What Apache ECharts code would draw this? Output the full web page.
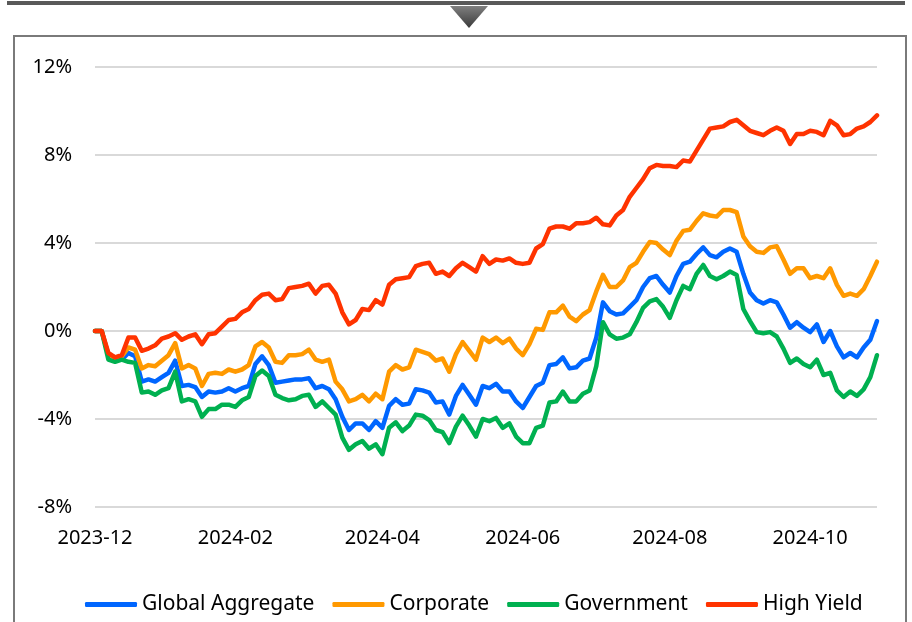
<!DOCTYPE html>
<html>
<head>
<meta charset="utf-8">
<script src="https://cdn.jsdelivr.net/npm/echarts@6/dist/echarts.min.js"></script>
<style>
    html, body {margin: 0; padding: 0; background: #fff;}
    #main {width: 912px; height: 622px;}
</style>
</head>
<body>
<div id="main"></div>
<script>
// series names + colors
const seriesNames = ['Global Aggregate', 'Corporate', 'Government', 'High Yield'];
const seriesColors = ['#0066FF', '#FF9900', '#00B050', '#FF3300'];

// y axis ticks (%)
const yTicks = [-8, -4, 0, 4, 8, 12];
// x positions that carry a month label
const labelIdx = [0, 21, 43, 64, 86, 107];

// values, one every 2nd business day from 2023-12-29
const globalAgg = [0, 0, -1.1, -1.2, -1.3, -1.0, -1.15, -2.3, -2.2, -2.3,
    -2.1, -1.9, -1.35, -2.5, -2.45, -2.55, -3.0, -2.75, -2.8, -2.75,
    -2.6, -2.75, -2.6, -2.5, -1.5, -1.15, -1.55, -2.35, -2.3, -2.25,
    -2.2, -2.2, -2.15, -2.6, -2.5, -2.65, -3.1, -3.9, -4.5, -4.2,
    -4.2, -4.5, -4.1, -4.4, -3.4, -3.1, -3.35, -3.3, -2.65, -2.7,
    -2.8, -3.25, -3.2, -3.8, -2.95, -2.45, -2.9, -3.35, -2.5, -2.6,
    -2.4, -2.75, -2.75, -3.2, -3.5, -3.0, -2.5, -2.35, -1.55, -1.5,
    -1.2, -1.7, -1.65, -1.35, -1.25, -0.3, 1.3, 0.9, 0.75, 0.8,
    1.1, 1.4, 2.0, 2.4, 2.5, 2.1, 1.75, 2.5, 3.05, 3.15,
    3.5, 3.8, 3.45, 3.35, 3.6, 3.75, 3.6, 2.6, 1.75, 1.4,
    1.25, 1.4, 1.3, 0.75, 0.15, 0.4, 0.15, -0.05, 0.3, -0.5,
    0.0, -0.7, -1.2, -1.0, -1.2, -0.75, -0.4, 0.45];

const corporate = [0, 0, -1.1, -1.2, -1.15, -0.75, -0.85, -1.7, -1.55, -1.6,
    -1.35, -1.1, -0.55, -1.7, -1.55, -1.7, -2.5, -1.95, -1.9, -1.95,
    -1.75, -1.85, -1.75, -1.55, -0.7, -0.5, -0.75, -1.4, -1.45, -1.1,
    -1.1, -1.05, -0.85, -1.3, -1.4, -1.3, -2.3, -2.65, -3.2, -3.1,
    -2.9, -3.2, -2.85, -3.1, -1.85, -1.55, -1.75, -1.65, -0.85, -0.95,
    -1.05, -1.35, -1.25, -1.85, -1.05, -0.5, -0.9, -1.3, -0.3, -0.5,
    -0.3, -0.55, -0.35, -0.8, -1.1, -0.6, 0.1, 0.05, 0.85, 0.85,
    1.15, 0.65, 0.45, 0.75, 0.95, 1.8, 2.55, 2.0, 2.0, 2.3,
    2.9, 3.1, 3.6, 4.05, 4.0, 3.7, 3.45, 4.1, 4.55, 4.6,
    5.0, 5.35, 5.25, 5.2, 5.5, 5.5, 5.4, 4.3, 3.85, 3.6,
    3.55, 3.8, 3.85, 3.25, 2.6, 2.85, 2.85, 2.4, 2.5, 2.4,
    2.85, 2.1, 1.6, 1.7, 1.6, 1.9, 2.5, 3.15];

const government = [0, 0, -1.3, -1.4, -1.3, -1.4, -1.45, -2.8, -2.75, -2.9,
    -2.7, -2.6, -1.85, -3.2, -3.1, -3.2, -3.9, -3.55, -3.55, -3.35,
    -3.35, -3.45, -3.15, -3.0, -2.05, -1.8, -2.05, -2.9, -3.05, -3.15,
    -3.1, -2.95, -2.9, -3.45, -3.2, -3.5, -3.8, -4.85, -5.4, -5.15,
    -5.0, -5.35, -5.15, -5.6, -4.4, -4.15, -4.55, -4.3, -3.8, -3.85,
    -4.05, -4.5, -4.6, -5.1, -4.35, -3.85, -4.3, -4.8, -4.0, -4.1,
    -3.95, -4.4, -4.2, -4.8, -5.1, -5.1, -4.4, -4.3, -3.25, -3.2,
    -2.75, -3.2, -3.2, -2.85, -2.7, -1.6, 0.4, -0.15, -0.35, -0.3,
    -0.15, 0.4, 1.05, 1.35, 1.45, 1.1, 0.6, 1.4, 2.05, 1.9,
    2.6, 3.0, 2.5, 2.35, 2.5, 2.7, 2.55, 1.0, 0.45, -0.05,
    -0.1, -0.05, -0.25, -0.8, -1.45, -1.25, -1.5, -1.65, -1.3, -2.0,
    -1.9, -2.7, -3.0, -2.75, -2.95, -2.65, -2.1, -1.1];

const highYield = [0, 0, -1.0, -1.2, -1.1, -0.3, -0.3, -0.9, -0.8, -0.65,
    -0.35, -0.25, -0.1, -0.4, -0.25, -0.15, -0.6, -0.15, -0.1, 0.2,
    0.5, 0.55, 0.85, 1.0, 1.4, 1.65, 1.7, 1.4, 1.45, 1.95,
    2.0, 2.05, 2.15, 1.7, 2.05, 2.1, 1.7, 0.85, 0.3, 0.5,
    1.0, 0.95, 1.4, 1.2, 2.1, 2.35, 2.4, 2.45, 2.95, 3.05,
    3.1, 2.6, 2.7, 2.5, 2.85, 3.1, 2.9, 2.7, 3.4, 3.05,
    3.25, 3.2, 3.3, 3.1, 3.05, 3.1, 3.75, 3.95, 4.65, 4.75,
    4.75, 4.65, 4.9, 4.9, 4.95, 5.15, 4.85, 4.8, 5.25, 5.5,
    6.1, 6.5, 6.9, 7.4, 7.55, 7.5, 7.5, 7.45, 7.75, 7.7,
    8.2, 8.7, 9.2, 9.25, 9.3, 9.5, 9.6, 9.35, 9.1, 9.0,
    8.9, 9.1, 9.25, 9.1, 8.5, 8.95, 8.95, 9.1, 9.05, 8.9,
    9.55, 9.35, 8.9, 8.95, 9.2, 9.3, 9.5, 9.8];

const seriesData = [globalAgg, corporate, government, highYield];

// dates: every 2nd business day starting 2023-12-29
function makeDates(count) {
    const out = [];
    let d = new Date(Date.UTC(2023, 11, 29));
    for (let i = 0; i < count; i++) {
        out.push(d.toISOString().slice(0, 10));
        let steps = 0;
        while (steps < 2) {
            d = new Date(d.getTime() + 86400000);
            const wd = d.getUTCDay();
            if (wd !== 0 && wd !== 6) steps++;
        }
    }
    return out;
}
const dates = makeDates(globalAgg.length);

const FONT = '"Noto Sans", sans-serif';

let myChart = echarts.init(document.getElementById('main'), null, {renderer: 'canvas'});

let option = {
    backgroundColor: '#fff',
    animation: false,
    textStyle: {fontFamily: FONT},
    graphic: [
        // top bar
        {type: 'rect', shape: {x: 7, y: 1, width: 898, height: 4}, style: {fill: '#595959'}, silent: true},
        // arrow
        {type: 'polygon', shape: {points: [[450, 6], [488, 6], [469, 28]]},
            style: {fill: new echarts.graphic.LinearGradient(0, 0, 0, 1, [
                {offset: 0, color: '#7f7f7f'}, {offset: 1, color: '#3a3a3a'}])}, silent: true},
        // frame
        {type: 'rect', shape: {x: 14, y: 36, width: 892, height: 620},
            style: {fill: null, stroke: '#7a7a7a', lineWidth: 2}, silent: true, z: -1}
    ],
    grid: {left: 95, right: 35, top: 67, bottom: 115, containLabel: false},
    legend: {
        data: seriesNames,
        top: 589,
        left: 80,
        icon: 'roundRect',
        itemWidth: 52,
        itemHeight: 5,
        itemGap: 18,
        textStyle: {fontSize: 21, color: '#000', fontFamily: FONT}
    },
    xAxis: {
        type: 'category',
        boundaryGap: false,
        data: dates,
        axisLine: {show: false},
        axisTick: {show: false},
        splitLine: {show: false},
        axisLabel: {
            interval: function (idx) { return labelIdx.indexOf(idx) >= 0; },
            formatter: function (v) { return v.slice(0, 7); },
            fontSize: 20,
            color: '#000',
            margin: 21
        }
    },
    yAxis: {
        type: 'value',
        min: yTicks[0],
        max: yTicks[yTicks.length - 1],
        interval: 4,
        axisLine: {show: false},
        axisTick: {show: false},
        splitLine: {lineStyle: {color: '#d9d9d9', width: 2}},
        axisLabel: {formatter: '{value}%', fontSize: 20, color: '#000', margin: 23}
    },
    series: seriesNames.map(function (name, i) {
        return {
            name: name,
            type: 'line',
            data: seriesData[i],
            showSymbol: false,
            symbol: 'none',
            color: seriesColors[i],
            lineStyle: {width: 4.5, color: seriesColors[i], join: 'round', cap: 'round'}
        };
    })
};
myChart.setOption(option);
</script>
</body>
</html>
